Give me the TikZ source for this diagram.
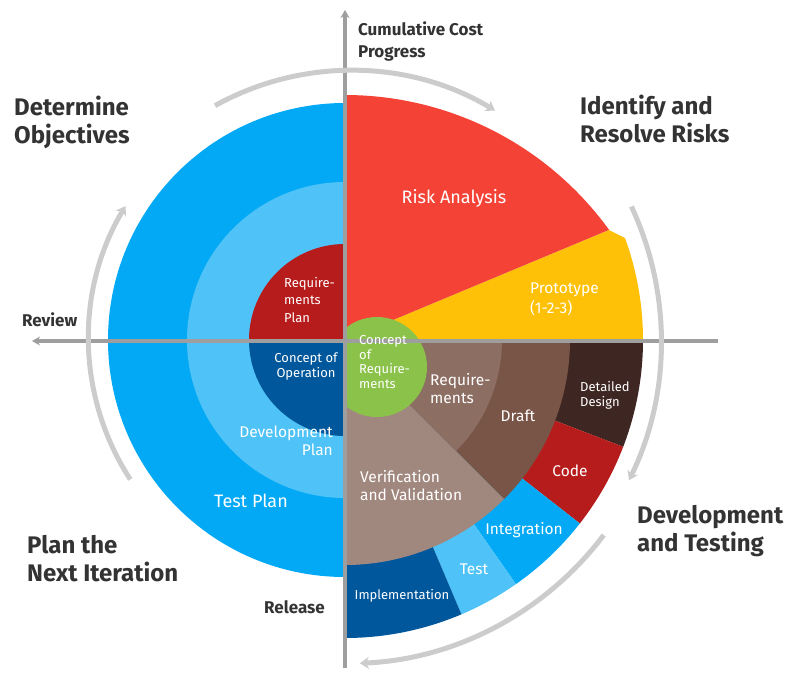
\documentclass[tikz,border=0pt]{standalone}
\usepackage{fontspec}
\setmainfont{Fira Sans}
\usetikzlibrary{arrows.meta}

\definecolor{cBlue}{HTML}{03A9F4}
\definecolor{cLight}{HTML}{4FC3F7}
\definecolor{cDeep}{HTML}{B71C1C}
\definecolor{cNavy}{HTML}{01579B}
\definecolor{cRisk}{HTML}{F44336}
\definecolor{cAmber}{HTML}{FFC107}
\definecolor{cGreen}{HTML}{8BC34A}
\definecolor{cReq}{HTML}{8D6E63}
\definecolor{cDraft}{HTML}{795548}
\definecolor{cDark}{HTML}{3E2723}
\definecolor{cVer}{HTML}{A1887F}
\definecolor{cAxis}{HTML}{9E9E9E}
\definecolor{cArc}{HTML}{CCCCCC}
\definecolor{cText}{HTML}{333333}

\newcommand\sector[4]{\fill[#1] (C) -- ++(#2:#4) arc[start angle=#2, end angle=#3, radius=#4] -- cycle;}

\begin{document}
\begin{tikzpicture}[x=1pt, y=1pt,
    head/.style = {font=\fontsize{24}{28}\selectfont\bfseries, text=cText, align=left, anchor=west, inner sep=0pt},
    side/.style = {font=\fontsize{17}{22}\selectfont\bfseries, text=cText, inner sep=0pt},
    lab/.style = {font=\fontsize{18}{22}\selectfont, text=white, inner sep=0pt},
    small/.style = {font=\fontsize{13}{15}\selectfont, text=white, inner sep=0pt},
    mid/.style = {small, font=\fontsize{15.5}{18}\selectfont},
    axis/.style = {cAxis, line width=4pt, -{Stealth[length=8pt, width=9pt]}},
    turn/.style = {cArc, line width=5pt, -{Stealth[length=9pt, width=12pt]}}]
\useasboundingbox (0,0) rectangle (800,-689);
\coordinate (C) at (345,-340);

% left half
\sector{cBlue}{90}{270}{237}
\sector{cLight}{90}{270}{158}
\sector{cDeep}{90}{180}{96}
\sector{cNavy}{180}{270}{96}

% right upper half
\fill[cAmber] (C) -- (643,-340) arc[start angle=0, end angle=20, radius=298] -- (609,-230) -- cycle;
\fill[cRisk] (C) -- (345,-95) arc[start angle=90, end angle=35.9, radius=326] -- cycle;

% right lower half
\sector{cDark}{0}{-21}{298}
\sector{cDeep}{-21}{-38}{298}
\sector{cBlue}{-38}{-55}{298}
\sector{cLight}{-55}{-67}{298}
\sector{cNavy}{-67}{-90}{298}
\sector{cDraft}{0}{-45}{225}
\sector{cVer}{-45}{-90}{225}
\sector{cReq}{0}{-45}{157}
\begin{scope}
  \clip (345,-300) rectangle (440,-430);
  \fill[cGreen] (377,-367) circle[radius=50];
\end{scope}

% axes
\draw[axis] (345,-668) -- (345,-10);
\draw[axis] (718,-341) -- (32,-341);

% turning arrows
\draw[turn] (C) ++(119:268) arc[start angle=119, end angle=59, radius=280];
\draw[turn] (C) ++(213:256) arc[start angle=213, end angle=149, radius=258];
\draw[turn] (C) ++(25:316) arc[start angle=25, end angle=-26, radius=318];
\draw[turn] (C) ++(-37:324) arc[start angle=-37, end angle=-87.5, radius=323];

% labels
\node[side, align=left, anchor=west] (cost) at (358,-41) {Cumulative Cost\\Progress};
\node[head] (obj) at (14,-122) {Determine\\Objectives};
\node[head] (risk) at (580,-119) {Identify and\\Resolve Risks};
\node[head] (dev) at (637,-531) {Development\\and Testing};
\node[head] (next) at (27,-559) {Plan the\\Next Iteration};
\node[side, anchor=west] (review) at (22,-320) {Review};
\node[side, anchor=west] (release) at (264,-607) {Release};

\node[lab] (ra) at (454,-198) {Risk Analysis};
\node[mid, font=\fontsize{15.5}{20}\selectfont, align=left, anchor=west] (proto) at (530,-299) {Prototype\\(1-2-3)};
\node[small, font=\fontsize{13}{17.5}\selectfont, align=left, anchor=west] (rplan) at (284,-300) {Require-\\ments\\Plan};
\node[small, align=center] (conop) at (306,-367) {Concept of\\Operation};
\node[mid, align=right, anchor=east] (dplan) at (333,-441) {Development\\Plan};
\node[lab] (tplan) at (251,-501) {Test Plan};
\node[small, font=\fontsize{13}{14.5}\selectfont, align=left, anchor=west] (conreq) at (359,-362) {Concept\\of\\Require-\\ments};
\node[mid, align=left, anchor=west] (req) at (430,-389) {Require-\\ments};
\node[mid] (draft) at (518,-416) {Draft};
\node[small, align=left, anchor=west] (ddes) at (580,-395) {Detailed\\Design};
\node[mid] (code) at (570,-471) {Code};
\node[mid] (integ) at (524,-530) {Integration};
\node[mid] (test) at (474,-569) {Test};
\node[small] (impl) at (402,-596) {Implementation};
\node[mid, align=left, anchor=west] (verval) at (360,-486) {Verification\\and Validation};
\end{tikzpicture}
\end{document}
